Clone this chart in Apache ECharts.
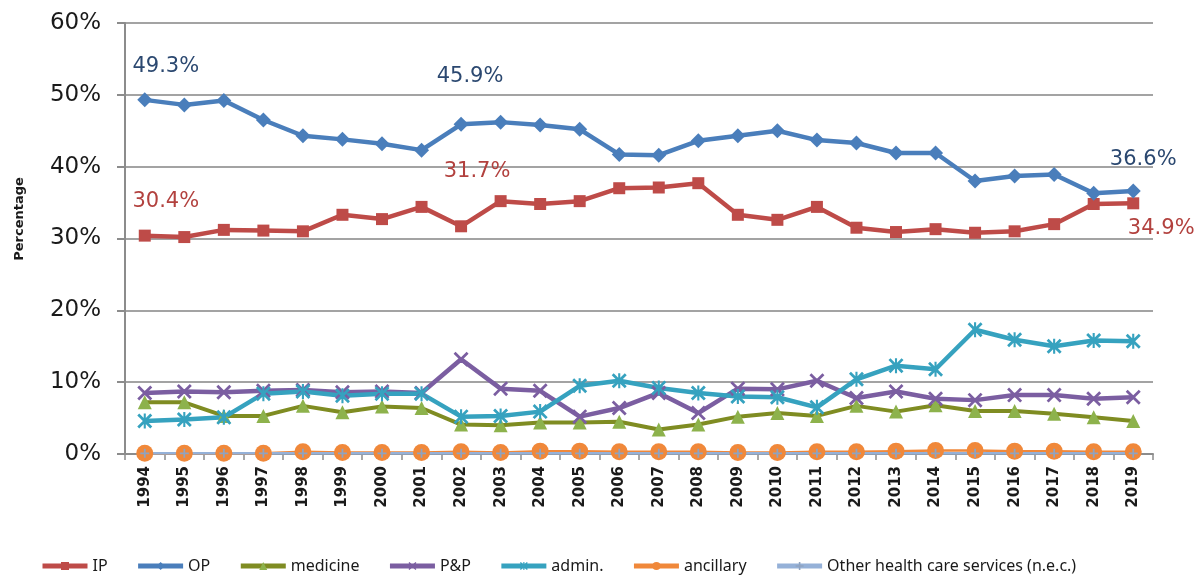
<!DOCTYPE html>
<html>
<head>
<meta charset="utf-8">
<title>Share of health expenditure by function, 1994–2019</title>
<script src="https://cdn.jsdelivr.net/npm/echarts@6/dist/echarts.min.js"></script>
<style>
  html, body { margin: 0; padding: 0; background: #fff; }
  #chart { width: 1202px; height: 580px; }
</style>
</head>
<body>
<div id="chart"></div>
<script>
// Years on the category axis
const years = ['1994','1995','1996','1997','1998','1999','2000','2001','2002','2003','2004','2005','2006',
               '2007','2008','2009','2010','2011','2012','2013','2014','2015','2016','2017','2018','2019'];

// Shares of spending (%) by function
const ip        = [30.4, 30.2, 31.2, 31.1, 31.0, 33.3, 32.7, 34.4, 31.7, 35.2, 34.8, 35.2, 37.0,
                   37.1, 37.7, 33.3, 32.6, 34.4, 31.5, 30.9, 31.3, 30.8, 31.0, 32.0, 34.8, 34.9];
const op        = [49.3, 48.6, 49.2, 46.5, 44.3, 43.8, 43.2, 42.3, 45.9, 46.2, 45.8, 45.2, 41.7,
                   41.6, 43.6, 44.3, 45.0, 43.7, 43.3, 41.9, 41.9, 38.0, 38.7, 38.9, 36.3, 36.6];
const medicine  = [7.2, 7.2, 5.3, 5.3, 6.7, 5.8, 6.6, 6.4, 4.1, 4.0, 4.4, 4.4, 4.5,
                   3.4, 4.1, 5.2, 5.7, 5.3, 6.7, 5.9, 6.8, 6.0, 6.0, 5.6, 5.1, 4.6];
const pp        = [8.5, 8.7, 8.6, 8.8, 8.9, 8.6, 8.7, 8.5, 13.2, 9.1, 8.8, 5.2, 6.4,
                   8.5, 5.7, 9.1, 9.0, 10.2, 7.8, 8.7, 7.7, 7.5, 8.2, 8.2, 7.7, 7.9];
const admin     = [4.6, 4.8, 5.1, 8.4, 8.7, 8.1, 8.4, 8.4, 5.2, 5.3, 5.9, 9.5, 10.2,
                   9.2, 8.5, 8.0, 7.9, 6.5, 10.4, 12.3, 11.8, 17.3, 15.9, 15.0, 15.8, 15.7];
const ancillary = [0.1, 0.1, 0.1, 0.1, 0.3, 0.2, 0.2, 0.2, 0.3, 0.2, 0.4, 0.4, 0.3,
                   0.3, 0.3, 0.2, 0.2, 0.3, 0.3, 0.4, 0.5, 0.5, 0.4, 0.4, 0.3, 0.3];
const other     = [0.1, 0.1, 0.1, 0.1, 0.1, 0.1, 0.1, 0.1, 0.1, 0.1, 0.1, 0.1, 0.1,
                   0.1, 0.1, 0.1, 0.1, 0.1, 0.1, 0.1, 0.1, 0.1, 0.1, 0.1, 0.1, 0.1];

// Y-axis range and step (%)
const yMin = 0, yMax = 60, yStep = 10;

// Marker shapes drawn as filled outlines
const SYM_X = 'path://M1.3,0 L5,3.7 L8.7,0 L10,1.3 L6.3,5 L10,8.7 L8.7,10 L5,6.3 L1.3,10 L0,8.7 L3.7,5 L0,1.3 Z';
const SYM_STAR = SYM_X + ' M4.3,0 L5.7,0 L5.7,10 L4.3,10 Z';
const SYM_PLUS = 'path://M4,0 L6,0 L6,4 L10,4 L10,6 L6,6 L6,10 L4,10 L4,6 L0,6 L0,4 L4,4 Z';

// Which points carry a value label, and where the label sits relative to the point
const labelSpots = {
  IP: { 0: [21, -34], 8: [16, -55], 25: [28, 25] },
  OP: { 0: [21, -33], 8: [9, -48], 25: [10, -32] }
};
const labelColors = { IP: '#b2413e', OP: '#2b4870' };

function withLabels(name, values) {
  const spots = labelSpots[name] || {};
  return values.map((v, i) => {
    if (!(i in spots)) return v;
    return {
      value: v,
      label: {
        show: true,
        position: 'inside',
        offset: spots[i],
        formatter: (p) => p.value.toFixed(1) + '%',
        color: labelColors[name],
        fontFamily: 'DejaVu Sans',
        fontSize: 21
      }
    };
  });
}

const seriesDefs = [
  { name: 'IP', data: ip, color: '#be4b48', symbol: 'rect', size: 12, width: 4.5 },
  { name: 'OP', data: op, color: '#4a7ebb', symbol: 'diamond', size: 15, width: 4.5 },
  { name: 'medicine', data: medicine, color: '#7f8c22', markerColor: '#8db24c', symbol: 'triangle', size: 14, width: 4 },
  { name: 'P&P', data: pp, color: '#7b5ea1', symbol: SYM_X, size: 15, width: 4.5 },
  { name: 'admin.', data: admin, color: '#36a2bf', symbol: SYM_STAR, size: 15, width: 4.5 },
  { name: 'ancillary', data: ancillary, color: '#f0883a', symbol: 'circle', size: 17, width: 2.5 },
  { name: 'Other health care services (n.e.c.)', data: other, color: '#95b1d8', markerColor: '#8fa3c0', symbol: SYM_PLUS, size: 9, width: 2.5 }
];

const series = seriesDefs.map(d => ({
  name: d.name,
  type: 'line',
  data: withLabels(d.name, d.data),
  symbol: d.symbol,
  symbolSize: d.size,
  showAllSymbol: true,
  clip: false,
  lineStyle: { color: d.color, width: d.width },
  itemStyle: { color: d.markerColor || d.color },
  emphasis: { disabled: true },
  animation: false
}));

const chart = echarts.init(document.getElementById('chart'), null, { renderer: 'canvas' });

chart.setOption({
  backgroundColor: '#ffffff',
  animation: false,
  grid: { left: 125, right: 49, top: 23, bottom: 126 },
  legend: {
    bottom: 1,
    left: 35,
    itemWidth: 45,
    itemHeight: 10,
    itemGap: 28,
    lineStyle: { width: 5 },
    textStyle: { fontFamily: 'Noto Sans', fontSize: 16, color: '#1a1a1a' },
    data: seriesDefs.map(d => d.name)
  },
  xAxis: {
    type: 'category',
    data: years,
    boundaryGap: true,
    axisLine: { lineStyle: { color: '#8c8c8c', width: 2 } },
    axisTick: { show: true, interval: 0, length: 6, lineStyle: { color: '#8c8c8c', width: 1.5 } },
    axisLabel: {
      interval: 0,
      rotate: 90,
      margin: 12,
      color: '#1a1a1a',
      fontFamily: 'DejaVu Sans',
      fontWeight: 'bold',
      fontSize: 15
    },
    splitLine: { show: false }
  },
  yAxis: {
    type: 'value',
    min: yMin,
    max: yMax,
    interval: yStep,
    axisLine: { show: true, lineStyle: { color: '#8c8c8c', width: 2 } },
    axisTick: { show: true, length: 8, lineStyle: { color: '#8c8c8c', width: 2 } },
    axisLabel: {
      formatter: '{value}%',
      margin: 24,
      color: '#1a1a1a',
      fontFamily: 'DejaVu Sans',
      fontSize: 23
    },
    splitLine: { show: true, lineStyle: { color: '#a3a3a3', width: 2 } }
  },
  graphic: [{
    type: 'text',
    x: 20,
    y: 219,
    rotation: Math.PI / 2,
    style: {
      text: 'Percentage',
      x: 0,
      y: 0,
      align: 'center',
      verticalAlign: 'middle',
      fill: '#1a1a1a',
      font: 'bold 13px "DejaVu Sans"'
    }
  }],
  series: series
});
</script>
</body>
</html>
